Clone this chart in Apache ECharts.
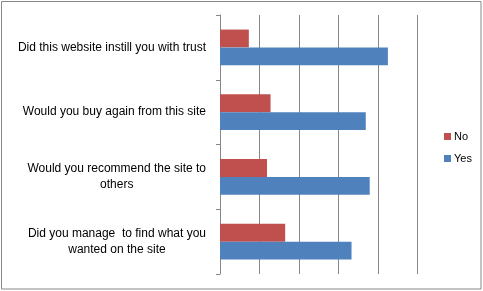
<!DOCTYPE html>
<html>
<head>
<meta charset="utf-8">
<script src="https://cdn.jsdelivr.net/npm/echarts@6/dist/echarts.min.js"></script>
<style>
html,body{margin:0;padding:0;background:#fff;}
#c{width:483px;height:291px;}
</style>
</head>
<body>
<div id="c"></div>
<script>
const categories = [
  'Did this website instill you with trust',
  'Would you buy again from this site',
  'Would you recommend the site to\nothers',
  'Did you manage  to find what you\nwanted on the site'
];
const seriesNames = ['No', 'Yes'];
const noValues = [7.3, 12.8, 11.9, 16.5];
const yesValues = [42.5, 36.9, 37.9, 33.3];

const chart = echarts.init(document.getElementById('c'), null, {renderer: 'canvas'});
const font = 'Liberation Sans';
chart.setOption({
  animation: false,
  backgroundColor: '#fff',
  graphic: [{
    type: 'rect',
    shape: {x: 1.5, y: 1.5, width: 479.5, height: 287.5},
    style: {fill: 'none', stroke: '#878787', lineWidth: 1},
    silent: true, z: -1
  }],
  grid: {left: 220, right: 65.5, top: 15, bottom: 17, containLabel: false},
  legend: {
    orient: 'vertical',
    left: 439, top: 126,
    itemWidth: 7, itemHeight: 7, itemGap: 11,
    icon: 'rect',
    textStyle: {fontFamily: font, fontSize: 11, color: '#000', padding: [0, 0, 0, -2]},
    data: seriesNames
  },
  xAxis: {
    type: 'value', min: 0, max: 50, interval: 10,
    axisLine: {show: false}, axisTick: {show: false}, axisLabel: {show: false},
    splitLine: {show: true, lineStyle: {color: '#878787', width: 1}}
  },
  yAxis: {
    type: 'category', inverse: true, data: categories,
    axisLine: {show: true, lineStyle: {color: '#878787', width: 1}},
    axisTick: {show: true, length: 4, lineStyle: {color: '#878787'}},
    axisLabel: {
      margin: 14,
      fontFamily: font, fontSize: 12, color: '#000',
      formatter: v => v.split('\n').map(l => '{c|' + l + '}').join('\n'),
      rich: {c: {align: 'center', fontFamily: font, fontSize: 12, color: '#000', lineHeight: 16}}
    }
  },
  series: [
    {name: seriesNames[0], type: 'bar', data: noValues, barGap: '0%', barCategoryGap: '45%',
     itemStyle: {color: '#C0504D'}},
    {name: seriesNames[1], type: 'bar', data: yesValues, barGap: '0%', barCategoryGap: '45%',
     itemStyle: {color: '#4F81BD'}}
  ]
});
</script>
</body>
</html>
